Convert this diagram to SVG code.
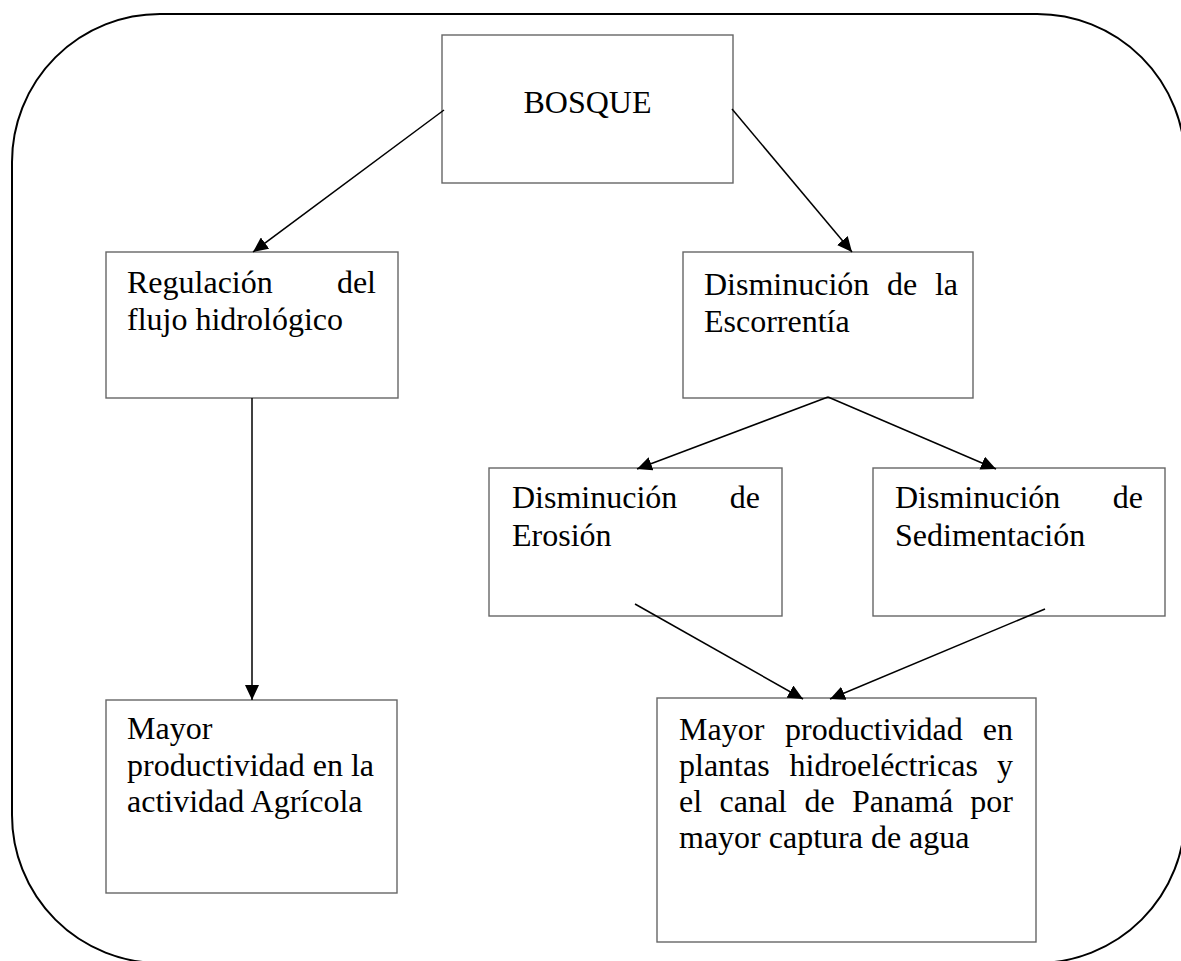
<svg xmlns="http://www.w3.org/2000/svg" width="1181" height="961" viewBox="0 0 1181 961">
<style>
  .frame { fill: none; stroke: #000; stroke-width: 2; }
  .box { fill: #fff; stroke: #666; stroke-width: 1.4; }
  .conn { fill: none; stroke: #000; stroke-width: 1.5; marker-end: url(#arrow); }
  text { font-family: "Liberation Serif", "Times New Roman", serif; font-size: 32px; fill: #000; }
  .end { text-anchor: end; }
</style>
<defs>
  <marker id="arrow" viewBox="0 0 15 14" refX="15" refY="7" markerWidth="15" markerHeight="14" markerUnits="userSpaceOnUse" orient="auto">
    <path d="M0,0 L15,7 L0,14 Z" fill="#000"/>
  </marker>
</defs>
<rect class="frame" x="12" y="14" width="1173" height="949" rx="148" ry="148"/>
<g id="n-bosque">
  <rect class="box" x="442" y="35" width="291" height="148"/>
  <text x="587.5" y="113" text-anchor="middle">BOSQUE</text>
</g>
<g id="n-regulacion">
  <rect class="box" x="106" y="252" width="292" height="146"/>
  <text x="127" y="293">Regulación</text>
  <text class="end" x="376" y="293">del</text>
  <text x="127" y="330">flujo hidrológico</text>
</g>
<g id="n-escorrentia">
  <rect class="box" x="683" y="252" width="290" height="146"/>
  <text x="704" y="295">Disminución</text>
  <text x="887" y="295">de</text>
  <text class="end" x="958" y="295">la</text>
  <text x="704" y="332">Escorrentía</text>
</g>
<g id="n-erosion">
  <rect class="box" x="489" y="468" width="293" height="148"/>
  <text x="512" y="508">Disminución</text>
  <text class="end" x="760" y="508">de</text>
  <text x="512" y="546">Erosión</text>
</g>
<g id="n-sedimentacion">
  <rect class="box" x="873" y="468" width="292" height="148"/>
  <text x="895" y="508">Disminución</text>
  <text class="end" x="1143" y="508">de</text>
  <text x="895" y="546">Sedimentación</text>
</g>
<g id="n-agricola">
  <rect class="box" x="106" y="700" width="291" height="193"/>
  <text x="127" y="739">Mayor</text>
  <text x="127" y="776">productividad en la</text>
  <text x="127" y="812">actividad Agrícola</text>
</g>
<g id="n-hidro">
  <rect class="box" x="657" y="698" width="379" height="244"/>
  <text x="679" y="740">Mayor</text>
  <text x="785" y="740">productividad</text>
  <text class="end" x="1013" y="740">en</text>
  <text x="679" y="776">plantas</text>
  <text x="789.5" y="776">hidroeléctricas</text>
  <text class="end" x="1013" y="776">y</text>
  <text x="679" y="812">el</text>
  <text x="719.5" y="812">canal</text>
  <text x="804.5" y="812">de</text>
  <text x="852" y="812">Panamá</text>
  <text class="end" x="1013" y="812">por</text>
  <text x="679" y="848">mayor captura de agua</text>
</g>
<g id="connectors">
  <line class="conn" x1="444" y1="110" x2="253" y2="252"/>
  <line class="conn" x1="732" y1="109" x2="852" y2="252"/>
  <line class="conn" x1="252" y1="398" x2="252" y2="700"/>
  <line class="conn" x1="828" y1="397" x2="637" y2="469"/>
  <line class="conn" x1="828" y1="397" x2="996" y2="469"/>
  <line class="conn" x1="635" y1="604" x2="803" y2="699"/>
  <line class="conn" x1="1045" y1="609" x2="830" y2="699"/>
</g>
</svg>
